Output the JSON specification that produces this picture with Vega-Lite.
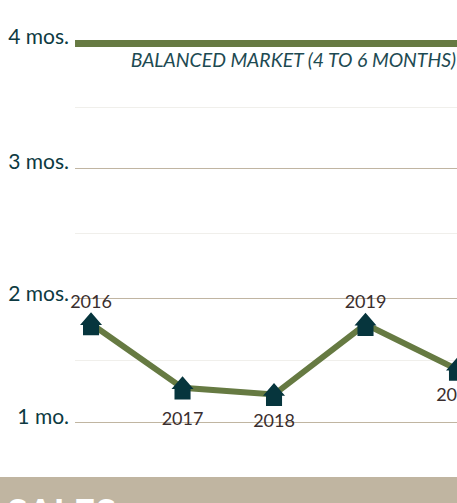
{"$schema":"https://vega.github.io/schema/vega-lite/v6.json","width":457,"height":503,"padding":0,"autosize":{"type":"none"},"background":"white","config":{"view":{"stroke":null}},
"datasets":{"inv":[{"year":2016,"months":1.78},{"year":2017,"months":1.273},{"year":2018,"months":1.22},{"year":2019,"months":1.776},{"year":2020,"months":1.42}],
"grid":[{"label":"1 mo.","m":0.9985,"start":2015.825,"end":2020},{"label":"2 mos.","m":1.9806,"start":2015.825,"end":2020},{"label":"3 mos.","m":3.0101,"start":2015.825,"end":2020}],
"minor":[{"m":1.4895,"start":2015.825,"end":2020},{"m":2.4953,"start":2015.825,"end":2020},{"m":3.4931,"start":2015.825,"end":2020}]},
"data":{"name":"inv"},
"layer":[
{"data":{"values":[{"a":2015.005,"b":2020,"lo":0.361,"hi":0.567}]},"mark":{"type":"rect","color":"#c0b5a1"},"encoding":{"x":{"field":"a","type":"quantitative","scale":{"domain":[2015.005,2020],"nice":false,"zero":false},"axis":null},"x2":{"field":"b"},"y":{"field":"lo","type":"quantitative","scale":{"domain":[0.361,4.3445],"nice":false,"zero":false},"axis":null},"y2":{"field":"hi"}}},
{"data":{"values":[{"x":2015.08,"y":0.167,"t":"SALES"}]},"mark":{"type":"text","align":"left","baseline":"alphabetic","font":"Lato","fontWeight":"bold","fontSize":38,"color":"#ffffff"},"encoding":{"x":{"field":"x","type":"quantitative"},"y":{"field":"y","type":"quantitative"},"text":{"field":"t"}}},
{"data":{"name":"minor"},"mark":{"type":"rule","color":"#f0efeb","strokeWidth":1},"encoding":{"x":{"field":"start","type":"quantitative"},"x2":{"field":"end"},"y":{"field":"m","type":"quantitative"}}},
{"data":{"name":"grid"},"mark":{"type":"rule","color":"#c0b5a1","strokeWidth":1},"encoding":{"x":{"field":"start","type":"quantitative"},"x2":{"field":"end"},"y":{"field":"m","type":"quantitative"}}},
{"data":{"values":[{"m":4,"start":2015.825,"end":2020}]},"mark":{"type":"rule","color":"#667a42","strokeWidth":7},"encoding":{"x":{"field":"start","type":"quantitative"},"x2":{"field":"end"},"y":{"field":"m","type":"quantitative"}}},
{"data":{"values":[{"x":2015.76,"m":1.034,"t":"1 mo."},{"x":2015.76,"m":2.008,"t":"2 mos."},{"x":2015.76,"m":3.053,"t":"3 mos."},{"x":2015.76,"m":4.043,"t":"4 mos."}]},"mark":{"type":"text","align":"right","baseline":"middle","font":"Lato","fontSize":21,"color":"#0d3a42"},"encoding":{"x":{"field":"x","type":"quantitative"},"y":{"field":"m","type":"quantitative"},"text":{"field":"t"}}},
{"data":{"values":[{"x":2019.99,"m":3.862,"t":"BALANCED MARKET (4 TO 6 MONTHS)"}]},"mark":{"type":"text","align":"right","baseline":"middle","font":"Lato","fontStyle":"italic","fontSize":19.4,"color":"#1d4a52"},"encoding":{"x":{"field":"x","type":"quantitative"},"y":{"field":"m","type":"quantitative"},"text":{"field":"t"}}},
{"mark":{"type":"line","color":"#667a42","strokeWidth":6},"encoding":{"x":{"field":"year","type":"quantitative"},"y":{"field":"months","type":"quantitative"}}},
{"mark":{"type":"point","filled":true,"opacity":1,"color":"#06353d","size":484,"shape":"M0,-1.05L1,0.1L0.73,0.1L0.73,1.05L-0.73,1.05L-0.73,0.1L-1,0.1Z"},"encoding":{"x":{"field":"year","type":"quantitative"},"y":{"field":"months","type":"quantitative"}}},
{"transform":[{"filter":"datum.year==2016||datum.year==2019"}],"mark":{"type":"text","dy":-21,"font":"Lato","fontSize":18,"color":"#3a2e2e"},"encoding":{"x":{"field":"year","type":"quantitative"},"y":{"field":"months","type":"quantitative"},"text":{"field":"year","type":"nominal"}}},
{"transform":[{"filter":"datum.year==2017"}],"mark":{"type":"text","dy":32,"font":"Lato","fontSize":18,"color":"#3a2e2e"},"encoding":{"x":{"field":"year","type":"quantitative"},"y":{"field":"months","type":"quantitative"},"text":{"field":"year","type":"nominal"}}},
{"transform":[{"filter":"datum.year==2018||datum.year==2020"}],"mark":{"type":"text","dy":27,"font":"Lato","fontSize":18,"color":"#3a2e2e"},"encoding":{"x":{"field":"year","type":"quantitative"},"y":{"field":"months","type":"quantitative"},"text":{"field":"year","type":"nominal"}}}
]}
